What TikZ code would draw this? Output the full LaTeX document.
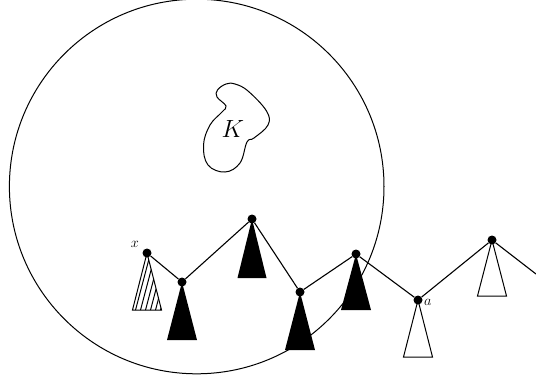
\documentclass[tikz,border=0pt]{standalone}
\begin{document}
\begin{tikzpicture}[x=1pt,y=-1pt,
  dot/.style={circle,fill=black,inner sep=0pt,minimum size=9pt},
  edge/.style={line width=1.1pt},
  lbl/.style={inner sep=1pt,font=\fontsize{15}{17}\selectfont}]
\useasboundingbox (0,0) rectangle (536,383);
% big circle
\draw[line width=1pt] (196.7,186.5) circle[radius=187.3];
% blob K
\draw[line width=1pt] plot[smooth cycle,tension=0.65] coordinates {(226,84) (217.5,90) (217,97) (226,106) (222,112) (210,125) (203.5,145) (208,165) (225,172) (240,163) (247,142) (254,138) (268,125) (266.5,111) (248,91) (235,84)};
\node[font=\fontsize{24}{28}\selectfont] (K) at (233,129) {$K$};
% node coordinates
\coordinate (px) at (147,253);
\coordinate (p2) at (182,282);
\coordinate (p3) at (252,219);
\coordinate (p4) at (300,292);
\coordinate (p5) at (356,254);
\coordinate (pa) at (418,300);
\coordinate (p7) at (492,240);
\coordinate (end) at (536,274);
% hatched triangle
\begin{scope}
\clip (px) -- ++(-14.5,57) -- ++(29,0) -- cycle;
\foreach \i in {0,...,9} {\draw[line width=1pt] (125+\i*5,312) -- ++(19,-72);}
\end{scope}
\draw[line width=1pt] (px) -- ++(-14.5,57) -- ++(29,0) -- cycle;
% black triangles
\fill (p2) -- ++(-15,58) -- ++(30,0) -- cycle;
\fill (p3) -- ++(-14.5,59) -- ++(29,0) -- cycle;
\fill (p4) -- ++(-15,58) -- ++(30,0) -- cycle;
\fill (p5) -- ++(-15,56) -- ++(30,0) -- cycle;
% white triangles
\draw[line width=1pt] (pa) -- ++(-14.5,57) -- ++(29,0) -- cycle;
\draw[line width=1pt] (p7) -- ++(-14.5,56) -- ++(29,0) -- cycle;
% dots
\node[dot] (x) at (px) {};
\node[dot] (n2) at (p2) {};
\node[dot] (n3) at (p3) {};
\node[dot] (n4) at (p4) {};
\node[dot] (n5) at (p5) {};
\node[dot] (a) at (pa) {};
\node[dot] (n7) at (p7) {};
% edges
\draw[edge] (x) -- (n2) -- (n3) -- (n4) -- (n5) -- (a) -- (n7) -- (end);
% labels
\node[lbl,anchor=east] (lx) at (140,244) {$x$};
\node[lbl,anchor=west] (la) at (423,302) {$a$};
\end{tikzpicture}
\end{document}
